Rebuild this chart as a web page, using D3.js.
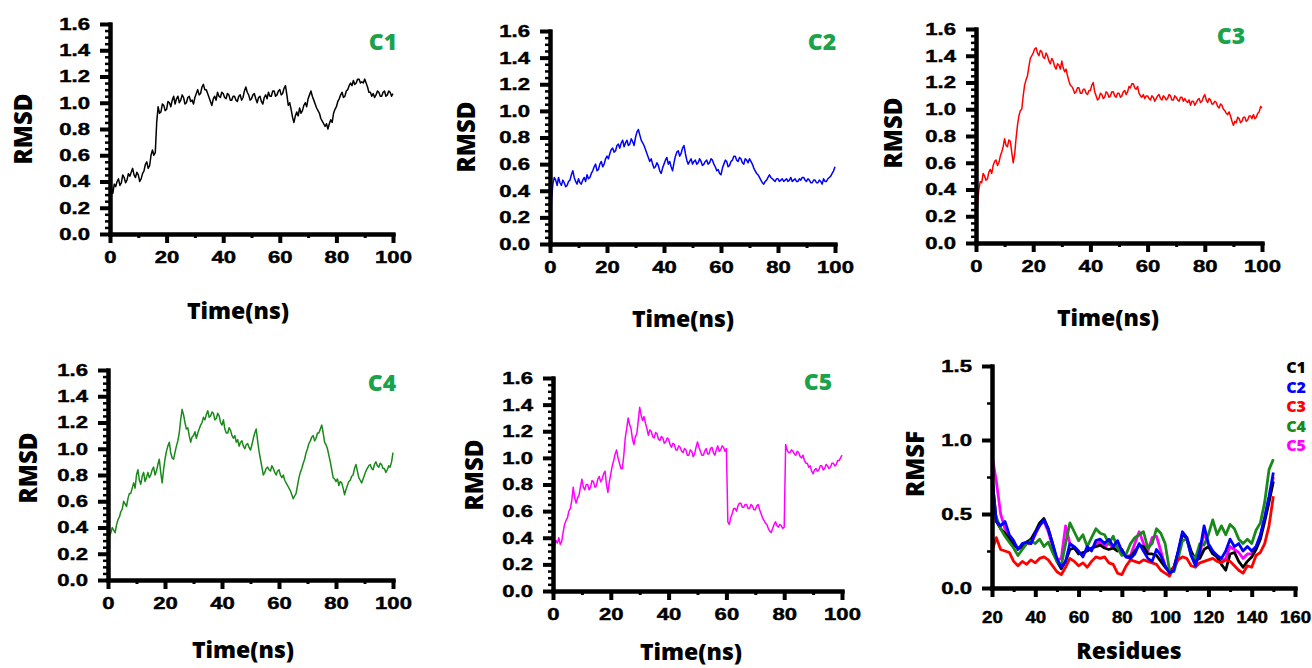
<!DOCTYPE html>
<meta charset="utf-8">
<style>
    body { margin: 0; background: #fff; }
    .axis text { font-family: "Liberation Sans", Arial, sans-serif; font-weight: bold; font-size: 17px; fill: #000; stroke: #000; stroke-width: 0.45px; }
    .title { font-family: "Open Sans", sans-serif; font-weight: 800; font-size: 23px; fill: #000; }
    .ytitle { font-size: 24px; }
    .tag { font-family: "Open Sans", sans-serif; font-weight: 800; font-size: 23px; fill: #1aa34a; }
    .legend { font-family: "Open Sans", sans-serif; font-weight: 800; font-size: 16px; }
</style>

<body>
    <script src="https://d3js.org/d3.v7.min.js"></script>
    <script>
        // RMSD (nm) every 0.5 ns from 0 to 100, one row = 10 ns
        var times = d3.range(0, 100.25, 0.5);
        var rmsdC1 = [
            0.40,0.36,0.31,0.38,0.36,0.40,0.42,0.37,0.39,0.45,0.43,0.39,0.41,0.46,0.44,0.47,0.50,0.45,0.43,0.47,
            0.45,0.40,0.42,0.46,0.48,0.53,0.55,0.50,0.52,0.60,0.64,0.60,0.62,0.85,0.97,0.92,0.93,0.99,0.98,0.94,
            0.95,1.01,1.00,0.97,1.02,1.05,0.99,1.03,1.05,1.00,1.02,1.06,1.04,0.99,1.00,1.04,1.05,1.01,1.02,0.99,
            1.04,1.07,1.10,1.06,1.07,1.12,1.14,1.10,1.10,1.07,1.04,1.01,0.98,1.03,1.05,1.02,1.08,1.05,1.04,1.08,
            1.07,1.04,1.03,1.07,1.06,1.02,1.02,1.05,1.05,1.02,1.01,1.05,1.06,1.02,1.04,1.09,1.12,1.08,1.06,1.02,
            1.03,1.06,1.07,1.03,1.00,1.04,1.05,1.01,0.99,1.04,1.06,1.03,1.08,1.05,1.05,1.09,1.09,1.05,1.06,1.09,
            1.10,1.06,1.07,1.11,1.13,1.06,0.98,1.00,0.95,0.89,0.85,0.90,0.93,0.90,0.96,0.92,0.94,0.98,1.00,0.97,
            1.03,1.06,1.09,1.05,1.02,0.99,0.96,0.94,0.92,0.88,0.86,0.84,0.82,0.84,0.80,0.84,0.87,0.85,0.92,0.95,
            0.97,1.01,1.03,1.06,1.08,1.04,1.05,1.09,1.10,1.13,1.15,1.13,1.17,1.14,1.15,1.18,1.18,1.15,1.16,1.15,
            1.18,1.15,1.12,1.08,1.08,1.05,1.07,1.04,1.06,1.09,1.08,1.05,1.05,1.08,1.09,1.05,1.06,1.09,1.08,1.05,
            1.07];
        var rmsdC2 = [
            0.00,0.32,0.45,0.50,0.48,0.44,0.50,0.46,0.44,0.48,0.46,0.43,0.44,0.47,0.48,0.52,0.55,0.50,0.47,0.45,
            0.49,0.46,0.45,0.48,0.50,0.47,0.52,0.49,0.50,0.53,0.55,0.58,0.60,0.55,0.56,0.60,0.62,0.58,0.60,0.64,
            0.66,0.64,0.68,0.71,0.72,0.69,0.70,0.74,0.75,0.72,0.76,0.78,0.73,0.76,0.78,0.74,0.75,0.79,0.77,0.74,
            0.80,0.84,0.86,0.82,0.78,0.76,0.74,0.71,0.68,0.65,0.62,0.64,0.60,0.57,0.58,0.61,0.59,0.55,0.53,0.57,
            0.60,0.63,0.65,0.60,0.62,0.58,0.55,0.61,0.66,0.69,0.70,0.66,0.68,0.72,0.74,0.68,0.63,0.60,0.62,0.64,
            0.60,0.62,0.63,0.60,0.61,0.64,0.62,0.59,0.60,0.62,0.63,0.60,0.61,0.64,0.63,0.60,0.58,0.55,0.56,0.53,
            0.52,0.57,0.60,0.63,0.62,0.58,0.59,0.62,0.63,0.66,0.66,0.63,0.62,0.65,0.64,0.61,0.60,0.64,0.63,0.61,
            0.64,0.62,0.60,0.57,0.55,0.53,0.52,0.50,0.48,0.46,0.45,0.47,0.48,0.50,0.52,0.50,0.49,0.48,0.47,0.49,
            0.49,0.47,0.48,0.49,0.47,0.48,0.49,0.47,0.48,0.50,0.47,0.48,0.49,0.47,0.47,0.49,0.48,0.50,0.50,0.48,
            0.47,0.49,0.48,0.46,0.46,0.48,0.48,0.46,0.46,0.48,0.47,0.45,0.49,0.47,0.47,0.49,0.50,0.51,0.53,0.55,
            0.58];
        var rmsdC3 = [
            0.00,0.28,0.40,0.46,0.45,0.52,0.50,0.47,0.48,0.53,0.55,0.52,0.58,0.61,0.62,0.58,0.60,0.65,0.68,0.72,
            0.78,0.73,0.72,0.77,0.76,0.68,0.60,0.66,0.78,0.88,0.95,0.99,1.00,1.10,1.18,1.22,1.25,1.32,1.38,1.40,
            1.42,1.45,1.46,1.42,1.40,1.44,1.43,1.39,1.38,1.42,1.40,1.36,1.34,1.38,1.36,1.32,1.30,1.34,1.33,1.30,
            1.36,1.31,1.28,1.30,1.25,1.21,1.18,1.17,1.15,1.12,1.13,1.16,1.16,1.12,1.12,1.15,1.15,1.12,1.11,1.14,
            1.14,1.18,1.20,1.13,1.10,1.07,1.08,1.12,1.11,1.08,1.09,1.13,1.12,1.09,1.10,1.13,1.13,1.10,1.09,1.12,
            1.12,1.09,1.10,1.13,1.14,1.11,1.13,1.17,1.16,1.19,1.19,1.16,1.15,1.17,1.12,1.10,1.09,1.11,1.08,1.10,
            1.10,1.08,1.07,1.10,1.09,1.06,1.08,1.10,1.11,1.08,1.07,1.10,1.09,1.07,1.08,1.11,1.10,1.07,1.07,1.10,
            1.09,1.07,1.06,1.09,1.09,1.06,1.08,1.06,1.05,1.07,1.03,1.06,1.06,1.03,1.05,1.07,1.08,1.05,1.06,1.09,
            1.11,1.07,1.05,1.08,1.07,1.04,1.04,1.06,1.05,1.02,1.01,1.04,1.03,1.00,0.99,0.97,0.96,0.98,0.95,0.91,
            0.88,0.91,0.90,0.94,0.93,0.90,0.91,0.94,0.94,0.91,0.92,0.95,0.95,0.93,0.96,0.93,0.94,0.97,0.98,1.02,
            1.01];
        var rmsdC4 = [
            0.00,0.33,0.36,0.40,0.38,0.36,0.42,0.46,0.48,0.52,0.54,0.60,0.58,0.56,0.62,0.66,0.66,0.70,0.74,0.70,
            0.80,0.84,0.76,0.73,0.79,0.82,0.75,0.78,0.82,0.78,0.80,0.84,0.86,0.80,0.83,0.88,0.92,0.82,0.74,0.84,
            0.92,0.98,1.02,1.05,0.97,0.93,0.92,0.97,1.02,1.06,1.12,1.22,1.30,1.26,1.20,1.15,1.16,1.10,1.05,1.09,
            1.10,1.13,1.08,1.12,1.15,1.18,1.20,1.24,1.22,1.26,1.29,1.24,1.25,1.28,1.27,1.22,1.23,1.27,1.25,1.20,
            1.18,1.22,1.15,1.12,1.12,1.16,1.14,1.10,1.08,1.10,1.05,1.07,1.02,1.05,1.06,1.02,1.00,1.03,1.04,1.01,
            0.99,1.03,1.08,1.12,1.15,1.06,0.98,0.92,0.86,0.80,0.82,0.85,0.86,0.84,0.83,0.87,0.85,0.82,0.80,0.83,
            0.84,0.80,0.78,0.80,0.76,0.74,0.72,0.70,0.68,0.65,0.62,0.64,0.66,0.72,0.78,0.82,0.85,0.89,0.92,0.97,
            1.00,1.04,1.06,1.09,1.10,1.06,1.08,1.12,1.12,1.15,1.18,1.12,1.05,1.03,1.00,0.95,0.90,0.84,0.78,0.77,
            0.75,0.77,0.72,0.75,0.74,0.70,0.65,0.69,0.72,0.75,0.76,0.79,0.80,0.85,0.88,0.83,0.78,0.76,0.74,0.77,
            0.80,0.83,0.85,0.87,0.88,0.85,0.84,0.88,0.90,0.87,0.86,0.89,0.88,0.85,0.85,0.82,0.84,0.87,0.86,0.90,
            0.97];
        var rmsdC5 = [
            0.00,0.34,0.38,0.36,0.40,0.35,0.37,0.44,0.50,0.53,0.55,0.60,0.62,0.68,0.78,0.70,0.66,0.70,0.72,0.78,
            0.84,0.78,0.76,0.80,0.80,0.76,0.78,0.83,0.82,0.78,0.79,0.84,0.86,0.82,0.84,0.88,0.90,0.80,0.74,0.82,
            0.88,0.94,0.98,1.03,1.06,1.00,0.96,0.92,0.92,1.02,1.15,1.22,1.30,1.25,1.22,1.14,1.10,1.16,1.18,1.28,
            1.38,1.32,1.28,1.31,1.26,1.22,1.17,1.21,1.20,1.16,1.15,1.19,1.18,1.14,1.13,1.16,1.15,1.11,1.12,1.15,
            1.14,1.10,1.08,1.11,1.10,1.06,1.06,1.09,1.08,1.05,1.04,1.07,1.06,1.02,1.02,1.06,1.05,1.01,1.03,1.08,
            1.12,1.08,1.05,1.02,1.02,1.05,1.07,1.03,1.03,1.07,1.08,1.04,1.02,1.06,1.09,1.05,1.06,1.09,1.08,1.05,
            1.07,0.52,0.50,0.55,0.58,0.62,0.62,0.60,0.64,0.66,0.66,0.63,0.63,0.65,0.65,0.62,0.62,0.65,0.64,0.61,
            0.61,0.64,0.65,0.61,0.58,0.55,0.53,0.51,0.50,0.47,0.45,0.44,0.47,0.50,0.52,0.49,0.48,0.50,0.49,0.47,
            0.48,1.10,1.06,1.04,1.04,1.06,1.05,1.03,1.02,1.05,1.04,1.01,1.00,1.02,0.98,0.96,0.96,0.93,0.94,0.90,
            0.88,0.91,0.92,0.90,0.91,0.94,0.94,0.91,0.92,0.95,0.94,0.92,0.93,0.96,0.96,0.94,0.95,0.98,0.98,1.00,
            1.02];

        // RMSF (nm) for every second residue from 20 to 150
        var residues = d3.range(20, 151, 2);
        var rmsfC1 = [0.75,0.45,0.40,0.37,0.33,0.29,0.27,0.27,0.31,0.33,0.38,0.44,0.47,0.40,0.30,0.18,0.13,0.18,0.26,0.27,
            0.23,0.24,0.25,0.27,0.28,0.29,0.27,0.26,0.27,0.25,0.26,0.21,0.21,0.25,0.29,0.28,0.23,0.23,0.22,0.18,
            0.14,0.11,0.14,0.24,0.36,0.34,0.25,0.19,0.20,0.26,0.28,0.23,0.21,0.16,0.12,0.23,0.24,0.18,0.14,0.18,
            0.21,0.26,0.33,0.45,0.58,0.72];
        var rmsfC2 = [0.75,0.45,0.42,0.45,0.36,0.32,0.26,0.30,0.31,0.30,0.37,0.42,0.46,0.40,0.30,0.20,0.14,0.18,0.30,0.28,
            0.25,0.21,0.28,0.25,0.32,0.33,0.30,0.33,0.28,0.32,0.25,0.21,0.20,0.23,0.30,0.25,0.20,0.18,0.26,0.22,
            0.15,0.10,0.12,0.25,0.38,0.34,0.22,0.15,0.25,0.42,0.30,0.25,0.22,0.20,0.25,0.33,0.28,0.30,0.25,0.28,
            0.25,0.28,0.36,0.48,0.62,0.78];
        var rmsfC3 = [0.25,0.34,0.26,0.25,0.24,0.18,0.15,0.18,0.16,0.19,0.17,0.20,0.21,0.19,0.15,0.11,0.09,0.14,0.20,0.18,
            0.15,0.17,0.14,0.18,0.21,0.20,0.21,0.17,0.16,0.10,0.09,0.15,0.19,0.18,0.17,0.19,0.18,0.17,0.16,0.12,
            0.10,0.08,0.14,0.19,0.21,0.20,0.15,0.14,0.17,0.18,0.19,0.20,0.18,0.17,0.19,0.18,0.15,0.12,0.10,0.15,
            0.14,0.22,0.24,0.30,0.42,0.62];
        var rmsfC4 = [0.55,0.48,0.40,0.35,0.31,0.27,0.22,0.26,0.30,0.32,0.30,0.33,0.28,0.31,0.24,0.18,0.15,0.30,0.44,0.38,
            0.32,0.36,0.28,0.34,0.40,0.37,0.36,0.30,0.35,0.27,0.22,0.23,0.30,0.34,0.36,0.38,0.27,0.30,0.40,0.37,
            0.30,0.12,0.11,0.20,0.32,0.33,0.22,0.20,0.30,0.29,0.36,0.46,0.36,0.42,0.36,0.43,0.40,0.33,0.30,0.33,
            0.30,0.39,0.44,0.58,0.80,0.87];
        var rmsfC5 = [0.90,0.72,0.50,0.40,0.35,0.30,0.27,0.28,0.30,0.30,0.36,0.43,0.45,0.38,0.28,0.19,0.20,0.42,0.30,0.27,
            0.24,0.22,0.26,0.26,0.30,0.31,0.28,0.30,0.27,0.28,0.24,0.21,0.22,0.30,0.38,0.30,0.25,0.34,0.35,0.25,
            0.15,0.11,0.13,0.24,0.37,0.33,0.23,0.17,0.22,0.38,0.29,0.24,0.21,0.18,0.20,0.28,0.26,0.24,0.20,0.23,
            0.23,0.27,0.35,0.47,0.60,0.75];

        var timeTicks = [0, 20, 40, 60, 80, 100];
        var timeMinor = [10, 30, 50, 70, 90];
        var rmsdTicks = [0, 0.2, 0.4, 0.6, 0.8, 1.0, 1.2, 1.4, 1.6];
        var rmsdMinor = [0.05, 0.1, 0.15, 0.25, 0.3, 0.35, 0.45, 0.5, 0.55, 0.65, 0.7, 0.75, 0.85, 0.9, 0.95,
            1.05, 1.1, 1.15, 1.25, 1.3, 1.35, 1.45, 1.5, 1.55];
        var residueTicks = [20, 40, 60, 80, 100, 120, 140, 160];
        var residueMinor = [30, 50, 70, 90, 110, 130, 150];
        var rmsfTicks = [0, 0.5, 1.0, 1.5];
        var rmsfMinor = [0.25, 0.75, 1.25];

        var names = ["C1", "C2", "C3", "C4", "C5"];
        var colors = { C1: "#000000", C2: "#0000ff", C3: "#ff0000", C4: "#198a19", C5: "#ff00ff" };
        var rmsd = { C1: rmsdC1, C2: rmsdC2, C3: rmsdC3, C4: rmsdC4, C5: rmsdC5 };
        var rmsf = { C1: rmsfC1, C2: rmsfC2, C3: rmsfC3, C4: rmsfC4, C5: rmsfC5 };

        // panel boxes: left, right, bottom, top (pixel positions of the axis ends)
        var rmsdPanels = [
            { name: "C1", box: [110, 393, 234, 24], tag: [383, 41], xt: [238, 310], yt: [22, 129] },
            { name: "C2", box: [550, 835, 244, 31], tag: [822, 41], xt: [683, 318], yt: [465, 137] },
            { name: "C3", box: [976, 1262, 243, 29], tag: [1231, 35], xt: [1108, 317], yt: [892, 133] },
            { name: "C4", box: [108, 393, 580, 370], tag: [382, 382], xt: [243, 649], yt: [27, 468] },
            { name: "C5", box: [553, 842, 591, 378], tag: [818, 381], xt: [691, 651], yt: [473, 475] }
        ];

        var svg = d3.select("body").append("svg").attr("width", 1312).attr("height", 668);

        // heavy axis lines and ticks, as in the source
        function heavy(g, w) {
            g.select(".domain").attr("stroke", "#000").attr("stroke-width", 4).attr("stroke-linecap", "square");
            g.selectAll(".tick line").attr("stroke", "#000").attr("stroke-width", w);
        }

        // tick labels in the source are drawn wide, so they are stretched sideways
        function axes(x, y, xt, xm, yt, ym, bottom, left, xpad, xs, ys) {
            svg.append("g").attr("class", "axis").attr("transform", "translate(0," + bottom + ")")
                .call(d3.axisBottom(x).tickValues(xm).tickSize(4).tickSizeOuter(0).tickFormat(""))
                .call(heavy, 3);
            svg.append("g").attr("class", "axis").attr("transform", "translate(" + left + ",0)")
                .call(d3.axisLeft(y).tickValues(ym).tickSize(5).tickSizeOuter(0).tickFormat(""))
                .call(heavy, 2.5);
            var gx = svg.append("g").attr("class", "axis").attr("transform", "translate(0," + bottom + ")")
                .call(d3.axisBottom(x).tickValues(xt).tickSize(9).tickSizeOuter(0).tickPadding(xpad).tickFormat(d3.format("d")))
                .call(heavy, 4);
            gx.selectAll("text").attr("transform", "scale(" + xs + ",1)");
            var gy = svg.append("g").attr("class", "axis").attr("transform", "translate(" + left + ",0)")
                .call(d3.axisLeft(y).tickValues(yt).tickSize(10).tickSizeOuter(0).tickFormat(d3.format(".1f")))
                .call(heavy, 4);
            gy.selectAll("text").attr("x", -20 / ys).attr("transform", "scale(" + ys + ",1)");
        }

        rmsdPanels.forEach(function(p) {
            var x = d3.scaleLinear().domain([0, 100]).range([p.box[0], p.box[1]]);
            var y = d3.scaleLinear().domain([0, 1.6]).range([p.box[2], p.box[3]]);
            var line = d3.line()
                .defined((d, i) => i < times.length)
                .x((d, i) => x(times[i])).y(d => y(d));
            svg.append("path").datum(rmsd[p.name])
                .attr("d", line).attr("fill", "none")
                .attr("stroke", colors[p.name]).attr("stroke-width", 1.5)
                .attr("stroke-linejoin", "round");
            axes(x, y, timeTicks, timeMinor, rmsdTicks, rmsdMinor, p.box[2], p.box[0], 8, 1.3, 1.3);

            svg.append("text").attr("class", "tag").attr("x", p.tag[0]).attr("y", p.tag[1])
                .attr("text-anchor", "middle").attr("dominant-baseline", "central").text(p.name);
            svg.append("text").attr("class", "title").attr("x", p.xt[0]).attr("y", p.xt[1])
                .attr("text-anchor", "middle").attr("dominant-baseline", "central").text("Time(ns)");
            svg.append("text").attr("class", "title ytitle")
                .attr("transform", "translate(" + p.yt[0] + "," + p.yt[1] + ") rotate(-90)")
                .attr("text-anchor", "middle").attr("dominant-baseline", "central").text("RMSD");
        });

        // RMSF panel
        var fx = d3.scaleLinear().domain([20, 160]).range([992, 1295]);
        var fy = d3.scaleLinear().domain([0, 1.5]).range([588, 366]);
        var fline = d3.line().x((d, i) => fx(residues[i])).y(d => fy(d));
        ["C5", "C1", "C4", "C3", "C2"].forEach(function(n) {
            svg.append("path").datum(rmsf[n]).attr("d", fline).attr("fill", "none")
                .attr("stroke", colors[n]).attr("stroke-width", 2.8).attr("stroke-linejoin", "round");
        });
        axes(fx, fy, residueTicks, residueMinor, rmsfTicks, rmsfMinor, 588, 992, 14, 1.1, 1.3);
        svg.append("text").attr("class", "title").attr("x", 1129).attr("y", 650)
            .attr("text-anchor", "middle").attr("dominant-baseline", "central").text("Residues");
        svg.append("text").attr("class", "title ytitle")
            .attr("transform", "translate(914,464) rotate(-90)")
            .attr("text-anchor", "middle").attr("dominant-baseline", "central").text("RMSF");
        svg.selectAll(".legend").data(names).enter().append("text").attr("class", "legend")
            .attr("x", 1306).attr("y", (d, i) => 367 + i * 19.5)
            .attr("text-anchor", "end").attr("dominant-baseline", "central")
            .attr("fill", d => colors[d]).text(d => d);
    </script>
</body>

</html>
